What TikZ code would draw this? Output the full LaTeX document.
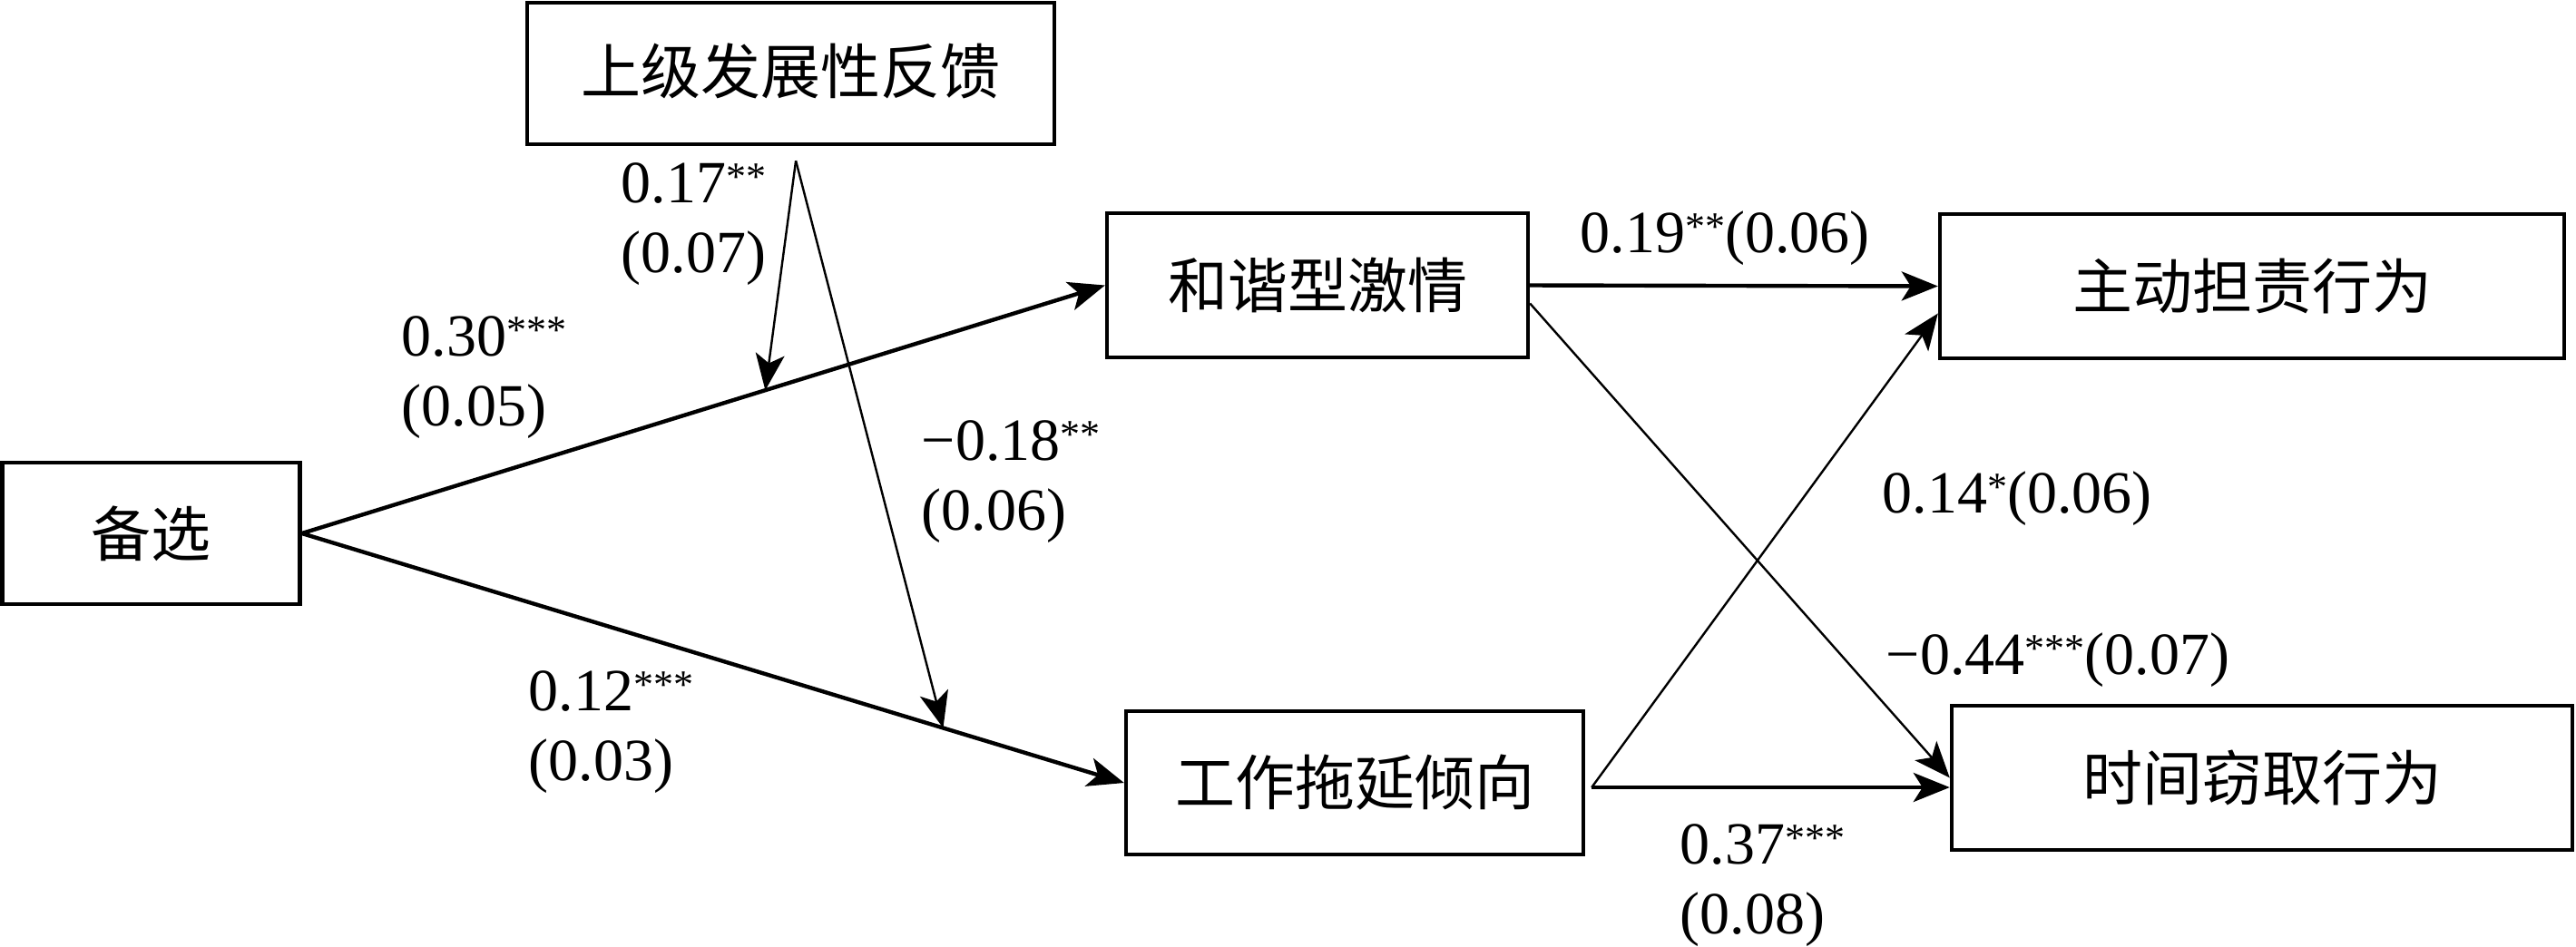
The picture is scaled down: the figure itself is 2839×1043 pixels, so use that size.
\documentclass[tikz,border=0pt]{standalone}
\usepackage{fontspec}
\setmainfont{Liberation Serif}
\newfontfamily\cjk{Noto Sans CJK SC}
\usetikzlibrary{arrows.meta}
\newcommand\sg[1]{\raisebox{3.5pt}{\fontsize{11}{11}\selectfont #1}}
\begin{document}
\begin{tikzpicture}[x={(0.25pt,0)}, y={(0,-0.25pt)},
  box/.style={draw, line width=1.1pt, inner sep=0pt, font=\cjk\fontsize{16.5}{18}\selectfont},
  lab/.style={inner sep=0pt, font=\fontsize{16.5}{19.25}\selectfont, align=left},
  tip/.style={-{Stealth[length=10pt,width=8pt,inset=2.5pt]}},
  thickarr/.style={tip, line width=1.1pt},
  thinarr/.style={tip, line width=0.6pt}]
\useasboundingbox (0,0) rectangle (2839,1043);

\node[box, minimum width=145.25pt, minimum height=39pt] (FB) at (871.5,81) {\raisebox{2.5pt}{上级发展性反馈}};
\node[box, minimum width=82pt, minimum height=39pt] (BX) at (166.5,588) {备选};
\node[box, minimum width=116pt, minimum height=39.75pt] (HX) at (1452,314.5) {和谐型激情};
\node[box, minimum width=172pt, minimum height=39.75pt] (ZD) at (2482,315.5) {主动担责行为};
\node[box, minimum width=126pt, minimum height=39.5pt] (GZ) at (1493,863) {工作拖延倾向};
\node[box, minimum width=171pt, minimum height=39.75pt] (SJ) at (2493,857.5) {时间窃取行为};

\draw[thickarr] (BX.east) -- coordinate[pos=0.577] (m1) (HX.west);
\draw[thickarr] (BX.east) -- coordinate[pos=0.78] (m2) (GZ.west);
\draw[thickarr] (HX.east) -- (ZD.west);
\draw[thinarr] ([yshift=-5pt]HX.east) -- (SJ.west);
\coordinate (go) at ([xshift=1.75pt,yshift=-1.25pt]GZ.east);
\draw[thinarr] (go) -- ([yshift=-7.5pt]ZD.west);
\draw[thickarr] (go) -- (go -| SJ.west);

\coordinate (fo) at ([xshift=1.4pt,yshift=-4pt]FB.south);
\draw[thinarr] (fo) -- (m1);
\draw[thinarr] (fo) -- (m2);

\node[lab, anchor=north west] (l1) at (684,179) {0.17\sg{**}\\(0.07)};
\node[lab, anchor=north west] (l2) at (442,348) {0.30\sg{***}\\(0.05)};
\node[lab, anchor=north west] (l3) at (1015,463) {−0.18\sg{**}\\(0.06)};
\node[lab, anchor=north west] (l4) at (582,739) {0.12\sg{***}\\(0.03)};
\node[lab, anchor=north west] (l5) at (1851,908) {0.37\sg{***}\\(0.08)};
\node[lab, anchor=base west] (l6) at (1741,278) {0.19\sg{**}(0.06)};
\node[lab, anchor=base west] (l7) at (2074,565) {0.14\sg{*}(0.06)};
\node[lab, anchor=base west] (l8) at (2078,743) {−0.44\sg{***}(0.07)};
\end{tikzpicture}
\end{document}
